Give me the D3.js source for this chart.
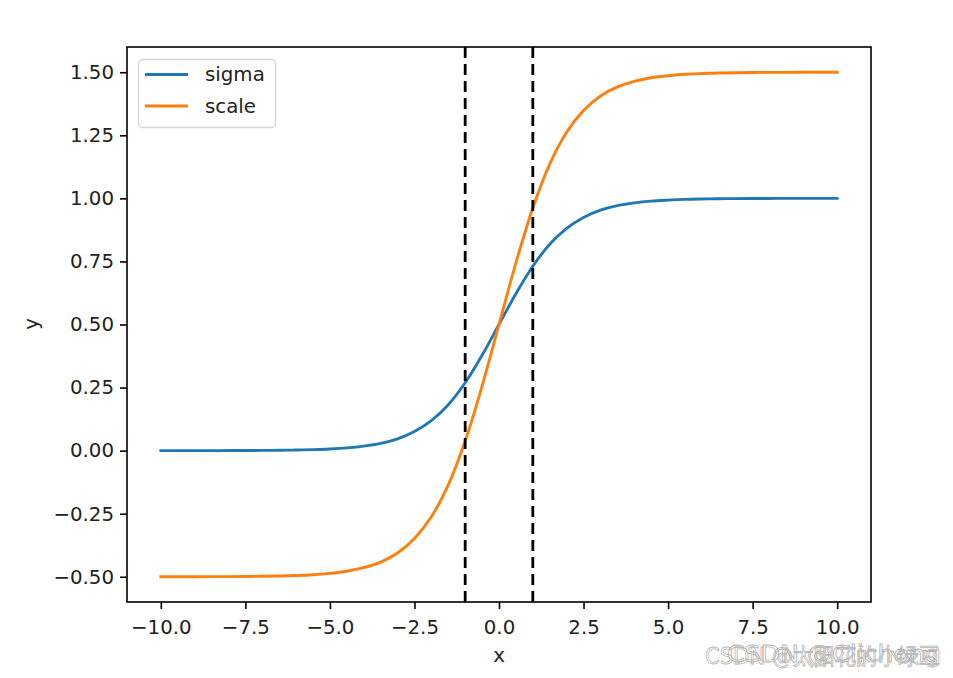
<!DOCTYPE html>
<html><head><meta charset="utf-8">
<script src="https://cdn.jsdelivr.net/npm/d3@7"></script>
<style>body{margin:0;background:#fff;} svg{display:block;} text{font-family:"DejaVu Sans",sans-serif;}</style>
</head><body>
<svg id="c" width="953" height="678"></svg>
<script>
const xs = [-10,-9.5,-9,-8.5,-8,-7.5,-7,-6.5,-6,-5.5,-5,-4.5,-4,-3.5,-3,-2.5,-2,-1.5,-1,-0.5,0,0.5,1,1.5,2,2.5,3,3.5,4,4.5,5,5.5,6,6.5,7,7.5,8,8.5,9,9.5,10];
const sigmaVals = [0.0000,0.0001,0.0001,0.0002,0.0003,0.0006,0.0009,0.0015,0.0025,0.0041,0.0067,0.011,0.018,0.029,0.047,0.076,0.119,0.182,0.269,0.378,0.5,0.622,0.731,0.818,0.881,0.924,0.953,0.971,0.982,0.989,0.993,0.996,0.9975,0.9985,0.9991,0.9994,0.9997,0.9998,0.9999,0.9999,1.0];
const scaleVals = [-0.5,-0.4998,-0.4998,-0.4996,-0.4994,-0.4988,-0.4982,-0.497,-0.495,-0.4918,-0.4866,-0.478,-0.464,-0.442,-0.406,-0.348,-0.262,-0.136,0.038,0.256,0.5,0.744,0.962,1.136,1.262,1.348,1.406,1.442,1.464,1.478,1.486,1.492,1.495,1.497,1.498,1.499,1.4994,1.4996,1.4998,1.4998,1.5];
const seriesNames = ["sigma","scale"];
const seriesColors = ["#1f77b4","#ff7f0e"];
const vlines = [-1, 1];
const xTicks = [-10,-7.5,-5,-2.5,0,2.5,5,7.5,10];
const yTicks = [-0.5,-0.25,0,0.25,0.5,0.75,1,1.25,1.5];
const watermarks = ["CSDN @太阳花的小绿豆","CSDN @Clichong"];

const L=127, R=871, T=47, B=602;
const svg = d3.select("#c");
const x = d3.scaleLinear().domain([-11,11]).range([L,R]);
const y = d3.scaleLinear().domain([-0.6,1.6]).range([B,T]);
const fs = "19.8px";

const series = [sigmaVals, scaleVals];
const line = d3.line().x((d,i)=>x(xs[i])).y(d=>y(d)).curve(d3.curveCatmullRom);
series.forEach((s,k)=>{
  svg.append("path").datum(s).attr("d",line).attr("fill","none")
    .attr("stroke",seriesColors[k]).attr("stroke-width",2.9).attr("stroke-linecap","square");
});
vlines.forEach(v=>{
  svg.append("line").attr("x1",x(v)).attr("x2",x(v)).attr("y1",T).attr("y2",B)
    .attr("stroke","#000").attr("stroke-width",2.8).attr("stroke-dasharray","11,6");
});

// axes
const xa = svg.append("g").attr("transform",`translate(0,${B})`)
  .call(d3.axisBottom(x).tickValues(xTicks).tickSize(7).tickPadding(6).tickFormat(d3.format(".1f")));
const ya = svg.append("g").attr("transform",`translate(${L},0)`)
  .call(d3.axisLeft(y).tickValues(yTicks).tickSize(7).tickPadding(6).tickFormat(d3.format(".2f")));
[xa,ya].forEach(a=>{
  a.select(".domain").remove();
  a.selectAll(".tick line").attr("stroke","#000").attr("stroke-width",1.6);
  a.selectAll(".tick text").attr("fill","#222").style("font-size",fs).style("font-family","DejaVu Sans");
});
xa.selectAll(".tick text").attr("dy","0.95em");
svg.append("rect").attr("x",L).attr("y",T).attr("width",R-L).attr("height",B-T)
  .attr("fill","none").attr("stroke","#000").attr("stroke-width",1.6);

svg.append("text").attr("x",(L+R)/2).attr("y",662).attr("text-anchor","middle").style("font-size",fs).attr("fill","#222").text("x");
svg.append("text").attr("transform","translate(38,324) rotate(-90)").attr("text-anchor","middle").style("font-size",fs).attr("fill","#222").text("y");

// legend
const lg = svg.append("g");
lg.append("rect").attr("x",138.5).attr("y",59.5).attr("width",137).attr("height",68).attr("rx",4)
  .attr("fill","#fff").attr("fill-opacity",0.8).attr("stroke","#d6d6d6").attr("stroke-width",1.4);
seriesNames.forEach((n,k)=>{
  const yy = 74.5 + k*31.5;
  lg.append("line").attr("x1",145).attr("x2",188).attr("y1",yy).attr("y2",yy)
    .attr("stroke",seriesColors[k]).attr("stroke-width",2.9);
  lg.append("text").attr("x",205).attr("y",yy).attr("dy","0.35em").style("font-size",fs).attr("fill","#222").text(n);
});

// watermark (two overlapping outlined marks, as in the picture)
const wm = svg.append("g").style("font-size","23px").attr("fill","#fff").attr("stroke","#b4b4b4").attr("stroke-width",0.8);
wm.append("text").attr("x",705).attr("y",664).attr("textLength",235).attr("lengthAdjust","spacingAndGlyphs").text(watermarks[0]);
wm.append("text").attr("x",727).attr("y",662).attr("textLength",214).attr("lengthAdjust","spacingAndGlyphs").attr("fill","none").text(watermarks[1]);
</script>
</body></html>
